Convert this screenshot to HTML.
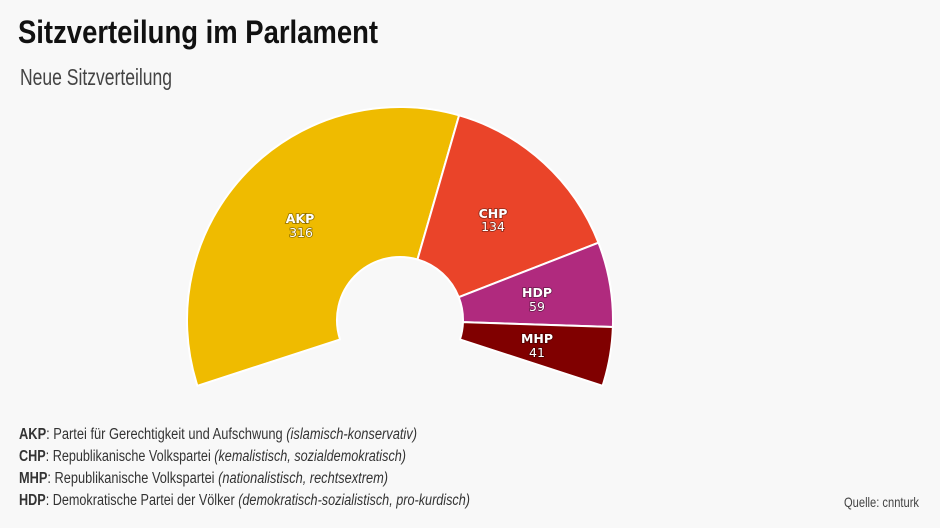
<!DOCTYPE html>
<html><head><meta charset="utf-8"><style>
html,body{margin:0;padding:0;background:#f8f8f8;}
svg{display:block;}
</style></head><body>
<svg width="940" height="528" viewBox="0 0 940 528" xmlns="http://www.w3.org/2000/svg">
<rect width="940" height="528" fill="#f8f8f8"/>
<text x="18" y="43" font-family="Liberation Sans, sans-serif" font-weight="bold" font-size="32" fill="#111" textLength="360" lengthAdjust="spacingAndGlyphs">Sitzverteilung im Parlament</text>
<text x="20" y="85" font-family="Liberation Sans, sans-serif" font-size="23" fill="#444" textLength="152" lengthAdjust="spacingAndGlyphs">Neue Sitzverteilung</text>

<g stroke="#fff" stroke-width="2" stroke-linejoin="round">
<path d="M197.42,385.82 A213,213 0 0 1 459.08,115.35 L417.47,259.47 A63,63 0 0 0 340.08,339.47 Z" fill="#efbb00"/>
<path d="M459.08,115.35 A213,213 0 0 1 598.49,242.73 L458.71,297.15 A63,63 0 0 0 417.47,259.47 Z" fill="#ea4429"/>
<path d="M598.49,242.73 A213,213 0 0 1 612.88,327.06 L462.97,322.09 A63,63 0 0 0 458.71,297.15 Z" fill="#b02a7e"/>
<path d="M612.88,327.06 A213,213 0 0 1 602.58,385.82 L459.92,339.47 A63,63 0 0 0 462.97,322.09 Z" fill="#800000"/>
</g>

<g font-family="DejaVu Sans, Verdana, sans-serif" font-size="12.5" fill="#fff" text-anchor="middle" style="paint-order:stroke" stroke="rgba(0,0,0,0.4)" stroke-width="1.6">
<text x="300" y="223" font-weight="bold">AKP</text>
<text x="301" y="237">316</text>
<text x="493" y="218" font-weight="bold">CHP</text>
<text x="493" y="231">134</text>
<text x="537" y="297" font-weight="bold">HDP</text>
<text x="537" y="311">59</text>
<text x="537" y="343" font-weight="bold">MHP</text>
<text x="537" y="357">41</text>
</g>

<g font-family="Liberation Sans, sans-serif" font-size="15.5" fill="#333">
<text x="19" y="439" textLength="398" lengthAdjust="spacingAndGlyphs"><tspan font-weight="bold">AKP</tspan>: Partei für Gerechtigkeit und Aufschwung <tspan font-style="italic">(islamisch-konservativ)</tspan></text>
<text x="19" y="461" textLength="387" lengthAdjust="spacingAndGlyphs"><tspan font-weight="bold">CHP</tspan>: Republikanische Volkspartei <tspan font-style="italic">(kemalistisch, sozialdemokratisch)</tspan></text>
<text x="19" y="483" textLength="369" lengthAdjust="spacingAndGlyphs"><tspan font-weight="bold">MHP</tspan>: Republikanische Volkspartei <tspan font-style="italic">(nationalistisch, rechtsextrem)</tspan></text>
<text x="19" y="505" textLength="451" lengthAdjust="spacingAndGlyphs"><tspan font-weight="bold">HDP</tspan>: Demokratische Partei der Völker <tspan font-style="italic">(demokratisch-sozialistisch, pro-kurdisch)</tspan></text>
</g>

<text x="844" y="507" font-family="Liberation Sans, sans-serif" font-size="14" fill="#444" textLength="75" lengthAdjust="spacingAndGlyphs">Quelle: cnnturk</text>
</svg>
</body></html>
